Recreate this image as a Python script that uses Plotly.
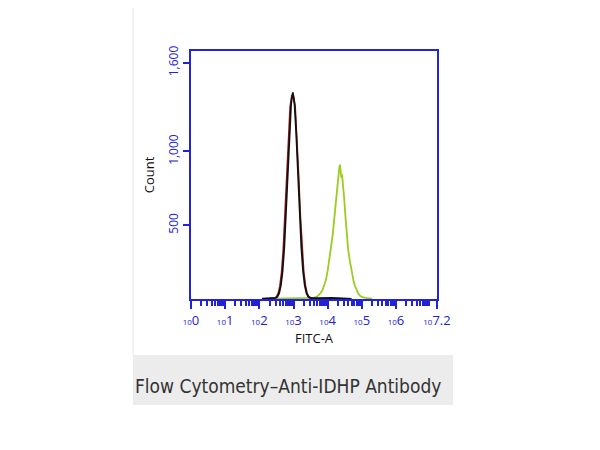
import plotly.graph_objects as go

# ---- data (log10 of FITC-A intensity, counts) ----
black_log = [2.08, 2.28, 2.38, 2.43, 2.48, 2.53, 2.58, 2.63, 2.68, 2.73, 2.78, 2.83, 2.88, 2.93,
             2.98, 3.03, 3.08, 3.13, 3.18, 3.23, 3.28, 3.33, 3.38, 3.43, 3.48, 3.53, 3.70, 3.90,
             4.10, 4.30, 4.50, 4.70]
black_cnt = [2, 4, 3, 5, 8, 16, 40, 92, 189, 349, 575, 849, 1121, 1324,
             1400, 1324, 1121, 849, 575, 349, 189, 92, 40, 16, 8, 5, 6, 4,
             7, 6, 3, 1]

red_log = [2.30, 2.40, 2.45, 2.50, 2.55, 2.60, 2.65, 2.70, 2.75, 2.80, 2.85, 2.90, 2.95,
           3.00, 3.05, 3.10, 3.15, 3.20, 3.25, 3.30, 3.35, 3.40, 3.45, 3.50, 3.55, 3.80]
red_cnt = [3, 4, 7, 14, 36, 85, 178, 335, 560, 830, 1100, 1300,
           1380, 1370, 1300, 1110, 840, 570, 345, 185, 90, 38, 15, 7, 4, 2]

green_log = [2.40, 2.80, 3.20, 3.50, 3.60, 3.70, 3.75, 3.80, 3.85, 3.90, 3.95, 4.00, 4.05,
             4.10, 4.15, 4.20, 4.25, 4.30, 4.34, 4.36, 4.38, 4.40, 4.42, 4.44, 4.48, 4.52,
             4.56, 4.60, 4.64, 4.68, 4.72, 4.76, 4.80, 4.85, 4.90, 4.95, 5.00, 5.10, 5.20, 5.30]
green_cnt = [2, 3, 3, 4, 8, 18, 28, 42, 62, 92, 130, 190, 268,
             340, 440, 560, 700, 830, 890, 910, 870, 820, 845, 800, 690, 560,
             430, 335, 270, 215, 165, 120, 88, 55, 35, 22, 14, 7, 4, 2]

x_tick_exp = [0, 1, 2, 3, 4, 5, 6, 7.2]
x_tick_text = ["0", "1", "2", "3", "4", "5", "6", "7.2"]
y_tick_vals = [500, 1000, 1600]

BLUE = "#2222d6"

fig = go.Figure()
fig.add_trace(go.Scatter(x=[10 ** v for v in green_log], y=green_cnt, mode="lines",
                         line=dict(color="#9ccc1f", width=1.8), showlegend=False))
fig.add_trace(go.Scatter(x=[10 ** v for v in red_log], y=red_cnt, mode="lines",
                         line=dict(color="#a01818", width=1.6), showlegend=False))
fig.add_trace(go.Scatter(x=[10 ** v for v in black_log], y=black_cnt, mode="lines",
                         line=dict(color="#111111", width=1.8), showlegend=False))

minor_vals = [k * 10 ** d for d in range(0, 7) for k in range(2, 10) if k * 10 ** d < 10 ** 7.2]

fig.update_xaxes(
    type="log", range=[0, 7.2],
    tickvals=[10 ** e for e in x_tick_exp],
    ticktext=["<span style='font-size:8px'>10</span>" + t for t in x_tick_text],
    ticks="outside", ticklen=8, tickwidth=2, tickcolor=BLUE,
    minor=dict(tickvals=minor_vals, ticks="outside", ticklen=5, tickwidth=2, tickcolor=BLUE),
    showline=True, linecolor=BLUE, linewidth=2, mirror=True,
    showgrid=False, zeroline=False,
    tickfont=dict(family="Open Sans", size=13, color=BLUE),
    title=dict(text="FITC-A", font=dict(family="Open Sans", size=13, color="#111111"), standoff=2),
)
fig.update_yaxes(
    range=[0, 1680],
    tickvals=y_tick_vals, tickformat=",",
    ticks="outside", ticklen=6, tickwidth=2, tickcolor=BLUE,
    tickangle=-90,
    showline=True, linecolor=BLUE, linewidth=2, mirror=True,
    showgrid=False, zeroline=False,
    tickfont=dict(family="Open Sans", size=12, color=BLUE),
    title=dict(text="Count", font=dict(family="Open Sans", size=13, color="#111111"), standoff=8),
)

OFF = 8  # page body offset
L, R, T, B = 191 - OFF, 163 + OFF, 51 - OFF, 151 + OFF
W, H = 600 - L - R, 450 - T - B


def px(xp):
    return (xp - OFF - L) / W


def py(yp):
    return (450 - B - (yp - OFF)) / H


fig.update_layout(
    width=600, height=450,
    margin=dict(l=L, r=R, t=T, b=B),
    paper_bgcolor="white", plot_bgcolor="white",
    shapes=[
        dict(type="rect", xref="paper", yref="paper", x0=px(133), x1=px(453), y0=py(405), y1=py(355),
             fillcolor="#ececec", line=dict(width=0), layer="below"),
        dict(type="line", xref="paper", yref="paper", x0=px(133), x1=px(133), y0=py(8), y1=py(355),
             line=dict(color="#e6e6e6", width=1)),
    ],
    annotations=[
        dict(text="Flow Cytometry\u2013Anti-IDHP Antibody", xref="paper", yref="paper",
             x=px(133), y=py(386), xanchor="left", yanchor="middle", showarrow=False,
             font=dict(family="DejaVu Sans Condensed", size=19, color="#333333")),
    ],
)

fig.write_html("out.html")
